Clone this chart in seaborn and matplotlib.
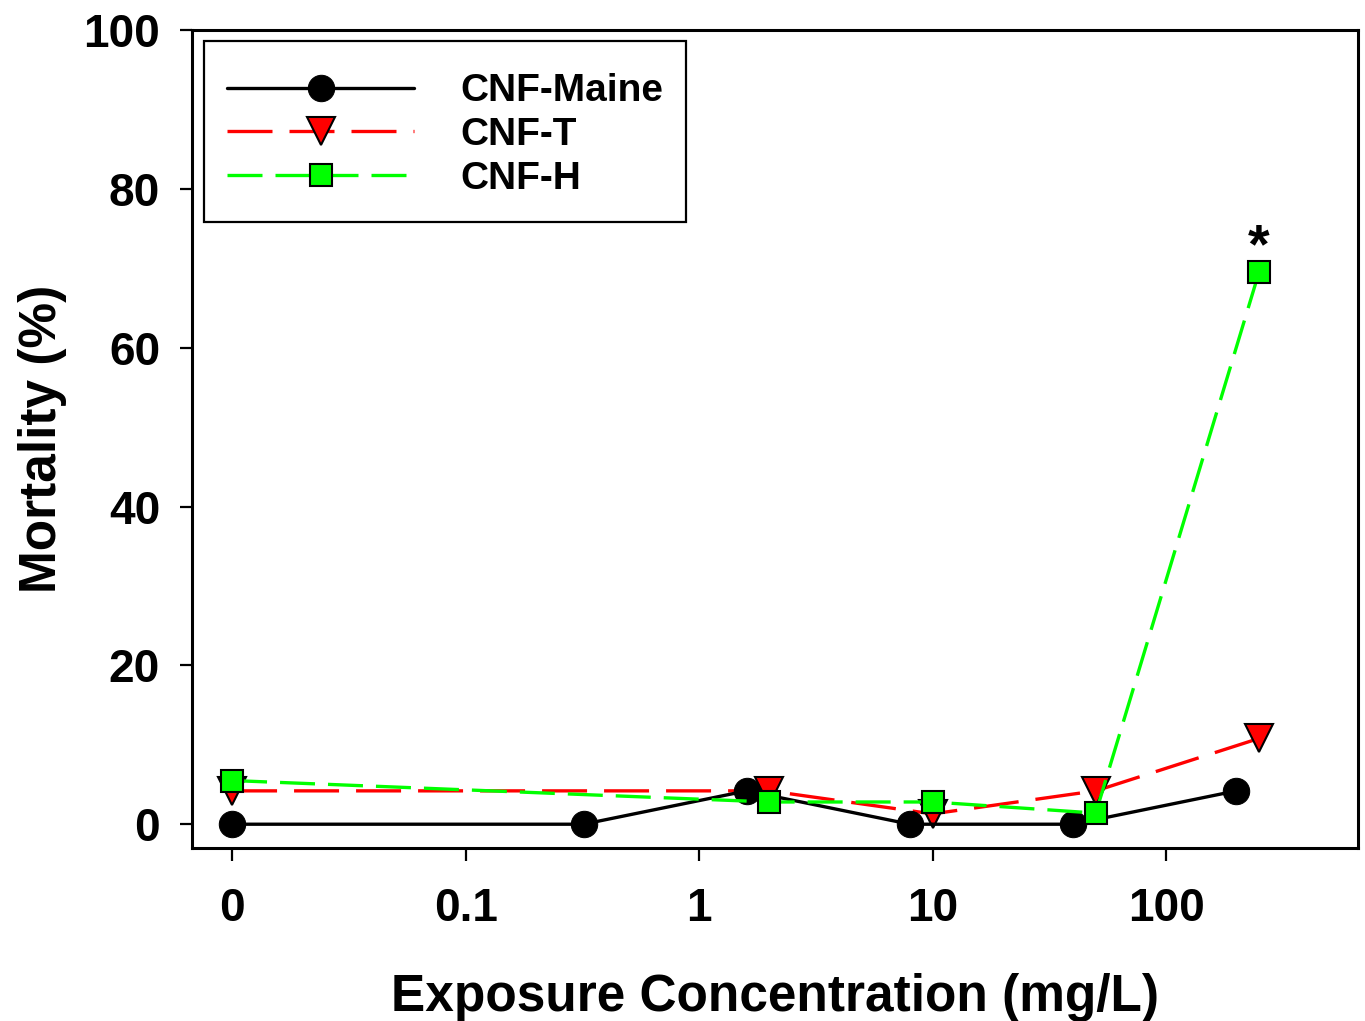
import pandas as pd
import seaborn as sns
import matplotlib.pyplot as plt
from matplotlib.patches import Rectangle

# data (0 = control, drawn at the far left of the log axis)
conc_maine = [0, 0.32, 1.6, 8, 40, 200]
mort_maine = [0.0, 0.0, 4.2, 0.0, 0.0, 4.2]

conc_t = [0, 2, 10, 50, 250]
mort_t = [4.2, 4.2, 1.3, 4.2, 10.8]

conc_h = [0, 2, 10, 50, 250]
mort_h = [5.5, 2.8, 2.8, 1.4, 69.5]

tick_vals = [0, 0.1, 1, 10, 100]
tick_labels = ['0', '0.1', '1', '10', '100']
control_pos = 0.01  # where the "0" control sits on the log axis


def to_pos(c):
    return [control_pos if v == 0 else v for v in c]


df_maine = pd.DataFrame({'conc': to_pos(conc_maine), 'mort': mort_maine})
df_t = pd.DataFrame({'conc': to_pos(conc_t), 'mort': mort_t})
df_h = pd.DataFrame({'conc': to_pos(conc_h), 'mort': mort_h})

sns.set_style('white')
plt.rcParams['font.family'] = ['Liberation Sans', 'DejaVu Sans']
plt.rcParams['font.weight'] = 'bold'
plt.rcParams['text.color'] = 'black'
plt.rcParams['axes.labelcolor'] = 'black'

fig = plt.figure(figsize=(13.65, 10.21), dpi=100)
ax = fig.add_axes([0.1407, 0.1694, 0.9949 - 0.1407, 0.9706 - 0.1694])

sns.lineplot(data=df_t, x='conc', y='mort', ax=ax, color='#ff0000', lw=2.4,
             linestyle=(0, (13.5, 5.1)), marker='v', markersize=20,
             markerfacecolor='#ff0000', markeredgecolor='black',
             markeredgewidth=1.5, label='CNF-T', zorder=3)
sns.lineplot(data=df_maine, x='conc', y='mort', ax=ax, color='black', lw=2.4,
             marker='o', markersize=19, markerfacecolor='black',
             markeredgecolor='black', label='CNF-Maine', zorder=4)
sns.lineplot(data=df_h, x='conc', y='mort', ax=ax, color='#00ff00', lw=2.4,
             linestyle=(0, (10.5, 3.9)), marker='s', markersize=16.5,
             markerfacecolor='#00ff00', markeredgecolor='black',
             markeredgewidth=1.5, label='CNF-H', zorder=5)

# significance mark
ax.text(conc_h[-1], 72.5, '*', ha='center', va='center', fontsize=40,
        fontweight='bold', color='black')

ax.set_xscale('log')
ax.set_xlim(0.00674, 664)
ax.set_ylim(-3, 100)
ax.set_xticks(to_pos(tick_vals))
ax.set_xticklabels(tick_labels)
ax.minorticks_off()
ax.set_yticks([0, 20, 40, 60, 80, 100])

ax.tick_params(axis='both', direction='out', length=9, width=1.6,
               labelsize=33, colors='black')
ax.tick_params(axis='x', pad=19, bottom=True)
ax.tick_params(axis='y', pad=14, left=True)
for lab in ax.get_xticklabels() + ax.get_yticklabels():
    lab.set_fontweight('bold')

for s in ax.spines.values():
    s.set_visible(True)
    s.set_color('black')
    s.set_linewidth(2.2)

ax.set_xlabel('Exposure Concentration (mg/L)', fontsize=37, fontweight='bold',
              labelpad=30)
ax.set_ylabel('Mortality (%)', fontsize=37, fontweight='bold', labelpad=12)

# legend box drawn separately so its padding can be taller than wide
ax.add_patch(Rectangle((0.0103, 0.7653), 0.4134, 0.2213,
                       transform=ax.transAxes, facecolor='white',
                       edgecolor='black', lw=1.6, zorder=6))

handles, labels = ax.get_legend_handles_labels()
order = [labels.index(n) for n in ['CNF-Maine', 'CNF-T', 'CNF-H']]
leg = ax.legend([handles[i] for i in order], [labels[i] for i in order],
                loc='upper left', bbox_to_anchor=(0.0103, 0.9756),
                borderaxespad=0, fontsize=28, handlelength=4.8,
                handletextpad=1.2, labelspacing=0.2, borderpad=0.6,
                frameon=False)
leg.set_zorder(7)
for t in leg.get_texts():
    t.set_fontweight('bold')
    t.set_color('black')

fig.savefig('out.png', dpi=100)
